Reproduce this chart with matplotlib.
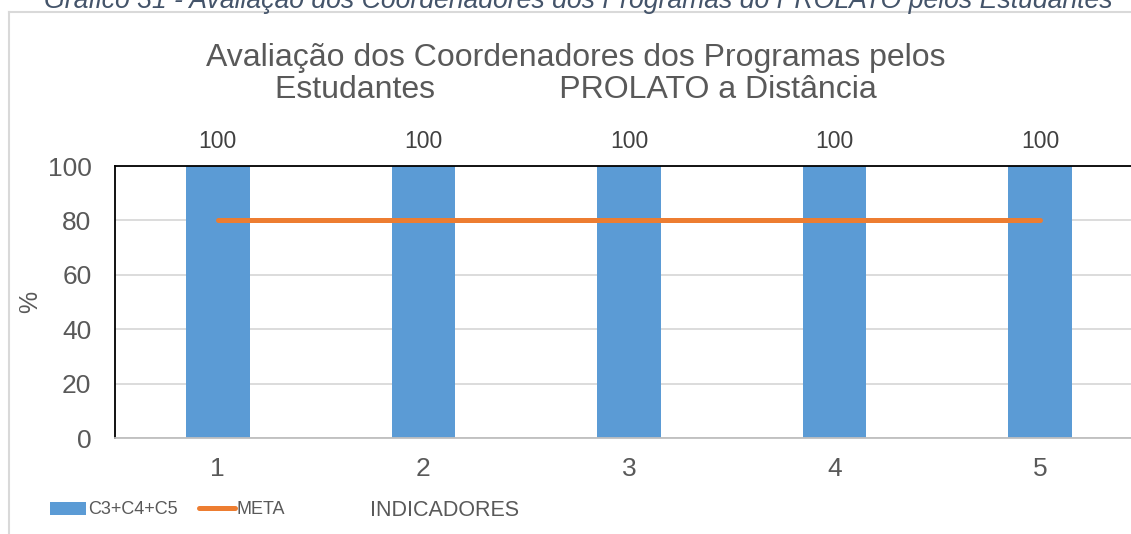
import matplotlib.pyplot as plt
from matplotlib.lines import Line2D

plt.rcParams['font.family'] = ['Liberation Sans', 'DejaVu Sans']

indicadores = [1, 2, 3, 4, 5]
c3c4c5 = [100, 100, 100, 100, 100]
meta = [80, 80, 80, 80, 80]

cinza = '#595959'

fig = plt.figure(figsize=(11.31, 5.34), dpi=100)
ax = fig.add_axes([115 / 1131, 96 / 534, 1028 / 1131, 272 / 534])

barras = ax.bar(indicadores, c3c4c5, width=0.31, color='#5B9BD5', zorder=2, label='C3+C4+C5')
linha, = ax.plot(indicadores, meta, color='#ED7D31', lw=3.6, solid_capstyle='round', zorder=3, label='META')
for b, v in zip(barras, c3c4c5):
    ax.annotate(str(v), (b.get_x() + b.get_width() / 2, v), xytext=(0, 13),
                textcoords='offset points', ha='center', va='baseline', fontsize=16.5, color='#404040')

ax.set_xlim(0.5, 5.5)
ax.set_ylim(0, 100)
ax.set_xticks(indicadores)
ax.set_yticks(range(0, 101, 20))
ax.tick_params(axis='both', length=0, labelsize=19, labelcolor=cinza)
ax.tick_params(axis='x', pad=14)
ax.tick_params(axis='y', pad=17)
ax.yaxis.grid(True, color='#D9D9D9', lw=1.3, zorder=0)
ax.set_axisbelow(True)
ax.spines['left'].set_color('black')
ax.spines['top'].set_color('black')
ax.spines['bottom'].set_color('#BFBFBF')
ax.spines['right'].set_visible(False)
for s in ['left', 'top', 'bottom']:
    ax.spines[s].set_linewidth(1.3)
ax.set_ylabel('%', fontsize=18, color=cinza, labelpad=4)

fig.text(578 / 1131, 1 - 8 / 534, 'Gráfico 31 - Avaliação dos Coordenadores dos Programas do PROLATO pelos Estudantes',
         ha='center', va='baseline', fontsize=19.2, style='italic', color='#44546A')
fig.text(576 / 1131, 1 - 74 / 534, 'Avaliação dos Coordenadores dos Programas pelos\nEstudantes              PROLATO a Distância',
         ha='center', va='center', fontsize=23, color=cinza, linespacing=1.05, multialignment='center')

fig.add_artist(Line2D([8.5 / 1131, 8.5 / 1131], [0, 1 - 11.5 / 534], color='#D9D9D9', lw=1.5))
fig.add_artist(Line2D([8.5 / 1131, 1], [1 - 11.5 / 534, 1 - 11.5 / 534], color='#D9D9D9', lw=1.5))

fig.legend(handles=[barras, linha], loc='center left', bbox_to_anchor=(43 / 1131, 1 - 510 / 534), ncol=2,
           frameon=False, fontsize=13, labelcolor=cinza, handlelength=2.0, handleheight=0.75,
           handletextpad=0.1, columnspacing=1.15, borderaxespad=0)
fig.text(445 / 1131, 1 - 510 / 534, 'INDICADORES', ha='center', va='center', fontsize=15.5, color=cinza)

fig.savefig('out.png', dpi=100)
